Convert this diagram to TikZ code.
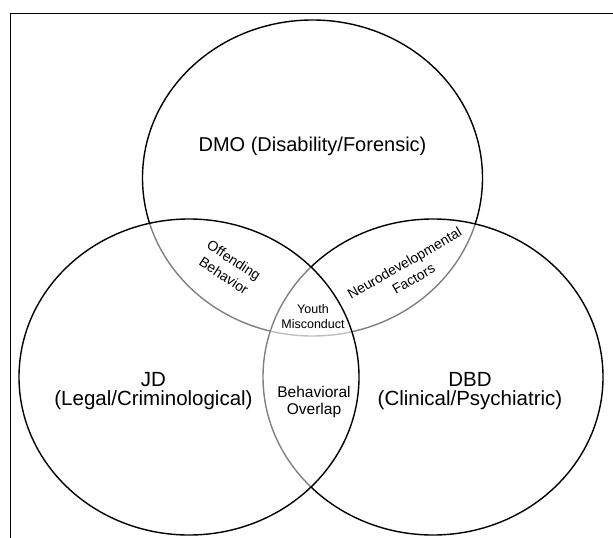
\documentclass[tikz,border=0pt]{standalone}
\usepackage{fontspec}
\setmainfont{Liberation Sans}
\usetikzlibrary{shapes.geometric}

\begin{document}
\begin{tikzpicture}[x=1pt,y=-1pt]
		\useasboundingbox (0,0) rectangle (613,538);
		% frame
		\coordinate (ftl) at (10.5,13);
		\coordinate (ftr) at (613,13);
		\coordinate (fbl) at (10.5,538);
		\draw[line width=0.8pt] (fbl) -- (ftl) -- (ftr);
		\begin{scope}[every node/.style={ellipse,draw,line width=1.4pt,fill=white,fill opacity=0.5,
				minimum width=340pt,minimum height=316pt,inner sep=0pt,outer sep=0pt}]
			\node (dmo) at (312.5,178) {};
			\node (dbd) at (433,377) {};
			\node (jd) at (189,377) {};
		\end{scope}
		\begin{scope}[every node/.style={align=center,inner sep=0pt}]
			\node[font=\fontsize{20}{19}\selectfont] (dmolbl) at (312.5,146) {DMO (Disability/Forensic)};
			\node[font=\fontsize{20.5}{19.5}\selectfont] (jdlbl) at (153.5,391) {JD\\(Legal/Criminological)};
			\node[font=\fontsize{20.5}{19.5}\selectfont] (dbdlbl) at (470,391) {DBD\\(Clinical/Psychiatric)};
			\node[font=\fontsize{15.5}{17.5}\selectfont] (overlap) at (314,402) {Behavioral\\Overlap};
			\node[font=\fontsize{12.5}{15}\selectfont] (youth) at (313,317) {Youth\\Misconduct};
			\node[font=\fontsize{14}{18.5}\selectfont,rotate=-33] (offend) at (229,268) {Offending\\Behavior};
			\node[font=\fontsize{14}{18}\selectfont,rotate=30] (neuro) at (409,271) {Neurodevelopmental\\Factors};
		\end{scope}
	\end{tikzpicture}
\end{document}
